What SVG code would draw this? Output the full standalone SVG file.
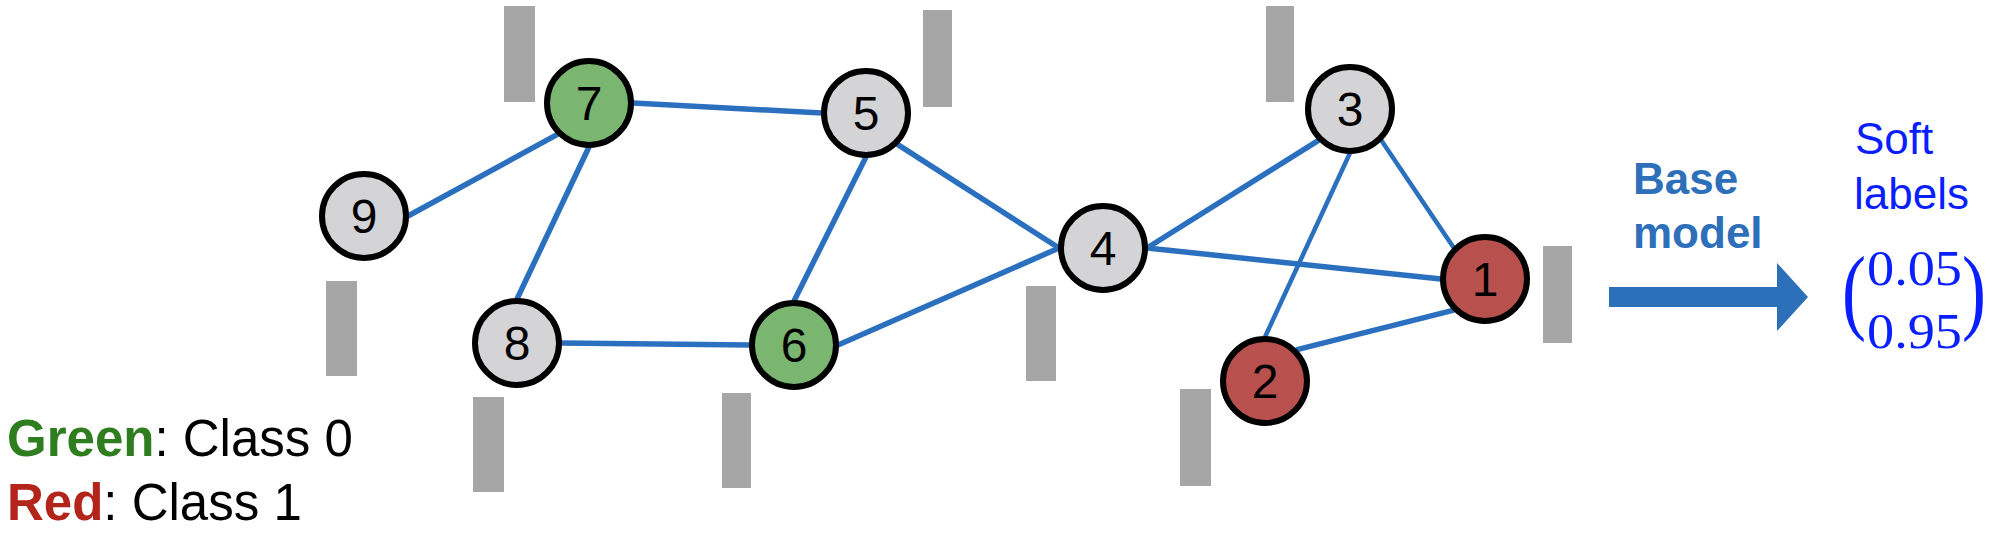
<svg xmlns="http://www.w3.org/2000/svg" width="2010" height="538" viewBox="0 0 2010 538">
<style>
.bar{fill:#a6a6a6}
.edge{stroke:#2b70bf;stroke-width:5.5;fill:none}
.thin{stroke-width:4.5}
.node circle{stroke:#000;stroke-width:6}
.gray{fill:#d4d4d6}
.green{fill:#7bb671}
.red{fill:#b8514d}
.num{font-family:"Liberation Sans",Arial,sans-serif;font-size:48px;fill:#000;text-anchor:middle}
.leg{font-family:"Liberation Sans",Arial,sans-serif;font-size:51px;fill:#000}
</style>
<rect width="2010" height="538" fill="#fff"/>
<g id="bars">
<rect class="bar" x="504" y="6" width="31" height="96"/>
<rect class="bar" x="923" y="10" width="29" height="97"/>
<rect class="bar" x="326" y="281" width="31" height="95"/>
<rect class="bar" x="473" y="397" width="31" height="95"/>
<rect class="bar" x="722" y="393" width="29" height="95"/>
<rect class="bar" x="1026" y="286" width="30" height="95"/>
<rect class="bar" x="1266" y="6" width="28" height="96"/>
<rect class="bar" x="1180" y="389" width="31" height="97"/>
<rect class="bar" x="1543" y="246" width="29" height="97"/>
</g>
<g id="connectors">
<line class="edge" x1="633" y1="103" x2="822" y2="113"/>
<line class="edge" x1="557.9" y1="134.1" x2="408" y2="216"/>
<line class="edge" x1="589" y1="147" x2="517" y2="299"/>
<line class="edge" x1="866" y1="157" x2="794" y2="301"/>
<line class="edge" x1="897.1" y1="144.1" x2="1059" y2="248"/>
<line class="edge" x1="561" y1="343" x2="750" y2="345"/>
<line class="edge" x1="838" y1="345" x2="1059" y2="248"/>
<line class="edge" x1="1147" y1="248" x2="1318.9" y2="140.1"/>
<line class="edge" x1="1147" y1="248" x2="1441" y2="279"/>
<line class="edge thin" x1="1350" y1="153" x2="1265" y2="337"/>
<line class="edge thin" x1="1381.1" y1="140.1" x2="1453.9" y2="247.9"/>
<line class="edge" x1="1296.1" y1="349.9" x2="1453.9" y2="310.1"/>
</g>
<g id="node7" class="node"><circle class="green" cx="589" cy="103" r="42"/><text class="num" x="589" y="120">7</text></g>
<g id="node5" class="node"><circle class="gray" cx="866" cy="113" r="42"/><text class="num" x="866" y="130">5</text></g>
<g id="node9" class="node"><circle class="gray" cx="364" cy="216" r="42"/><text class="num" x="364" y="233">9</text></g>
<g id="node8" class="node"><circle class="gray" cx="517" cy="343" r="42"/><text class="num" x="517" y="360">8</text></g>
<g id="node6" class="node"><circle class="green" cx="794" cy="345" r="42"/><text class="num" x="794" y="362">6</text></g>
<g id="node4" class="node"><circle class="gray" cx="1103" cy="248" r="42"/><text class="num" x="1103" y="265">4</text></g>
<g id="node3" class="node"><circle class="gray" cx="1350" cy="109" r="42"/><text class="num" x="1350" y="126">3</text></g>
<g id="node1" class="node"><circle class="red" cx="1485" cy="279" r="42"/><text class="num" x="1485" y="296">1</text></g>
<g id="node2" class="node"><circle class="red" cx="1265" cy="381" r="42"/><text class="num" x="1265" y="398">2</text></g>
<g id="arrow">
<polygon points="1609,287 1777,287 1777,263 1808,297 1777,331 1777,307 1609,307" fill="#2b70b9"/>
<text x="1633" y="194" font-family="'Liberation Sans',Arial,sans-serif" font-weight="bold" font-size="44" fill="#2e6fba">Base</text>
<text x="1633" y="248" font-family="'Liberation Sans',Arial,sans-serif" font-weight="bold" font-size="44" fill="#2e6fba">model</text>
</g>
<g id="softlabels">
<text x="1855" y="154" font-family="'Liberation Sans',Arial,sans-serif" font-size="44" fill="#0a1fff">Soft</text>
<text x="1854" y="209" font-family="'Liberation Sans',Arial,sans-serif" font-size="44" fill="#0a1fff">labels</text>
<text x="1867" y="285" font-family="'Liberation Serif','Times New Roman',serif" font-size="50" fill="#0a1fff" textLength="95" lengthAdjust="spacingAndGlyphs">0.05</text>
<text x="1867" y="348" font-family="'Liberation Serif','Times New Roman',serif" font-size="50" fill="#0a1fff" textLength="95" lengthAdjust="spacingAndGlyphs">0.95</text>
<text transform="translate(1842,322) scale(0.75,1)" font-family="'Liberation Serif','Times New Roman',serif" font-size="96" fill="#0a1fff">(</text>
<text transform="translate(1962,322) scale(0.75,1)" font-family="'Liberation Serif','Times New Roman',serif" font-size="96" fill="#0a1fff">)</text>
</g>
<g id="legend">
<text class="leg" x="7" y="456"><tspan font-weight="bold" fill="#2e7d1f">Green</tspan>: Class 0</text>
<text class="leg" x="7" y="520"><tspan font-weight="bold" fill="#b3241a">Red</tspan>: Class 1</text>
</g>
</svg>
